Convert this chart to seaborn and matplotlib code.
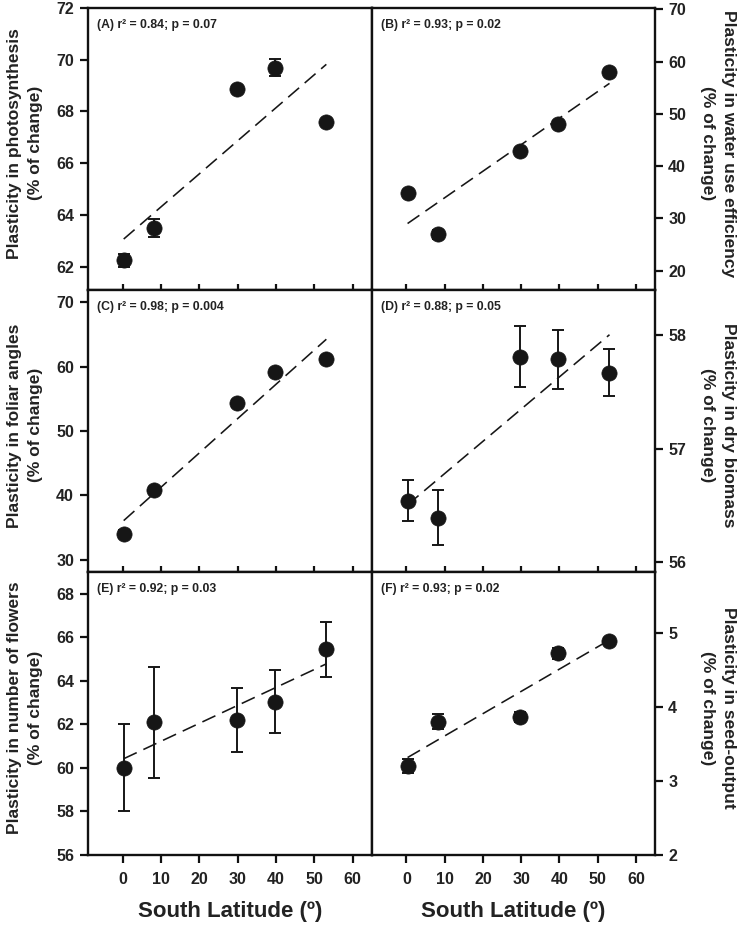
import numpy as np
import pandas as pd
import matplotlib
matplotlib.use("Agg")
import matplotlib.pyplot as plt
import seaborn as sns

# ---- data ----
latitude = [0.3, 8.2, 29.7, 39.7, 53.1]

photo = [62.25, 63.5, 68.88, 69.7, 67.58]
photo_err = [0.25, 0.34, 0.1, 0.31, 0.1]

wue = [34.9, 26.95, 42.9, 48.05, 58.05]
wue_err = [0.6, 0.8, 0.5, 0.5, 0.5]

foliar = [34.0, 40.8, 54.3, 59.2, 61.2]
foliar_err = [0.6, 0.5, 0.5, 0.5, 0.5]

biomass = [56.54, 56.39, 57.81, 57.79, 57.67]
biomass_err = [0.18, 0.245, 0.27, 0.26, 0.21]

flowers = [60.0, 62.09, 62.21, 63.05, 65.45]
flowers_err = [2.0, 2.55, 1.46, 1.43, 1.27]

seed = [3.20, 3.80, 3.86, 4.72, 4.89]
seed_err = [0.09, 0.10, 0.07, 0.07, 0.04]

panel_labels = ["(A) r² = 0.84; p = 0.07", "(B) r² = 0.93; p = 0.02",
                "(C) r² = 0.98; p = 0.004", "(D) r² = 0.88; p = 0.05",
                "(E) r² = 0.92; p = 0.03", "(F) r² = 0.93; p = 0.02"]
y_labels = ["Plasticity in photosynthesis\n(% of change)",
            "Plasticity in water use efficiency\n(% of change)",
            "Plasticity in foliar angles\n(% of change)",
            "Plasticity in dry biomass\n(% of change)",
            "Plasticity in number of flowers\n(% of change)",
            "Plasticity in seed-output\n(% of change)"]
x_ticks = [0, 10, 20, 30, 40, 50, 60]
x_label = "South Latitude (º)"

series = [photo, wue, foliar, biomass, flowers, seed]
errors = [photo_err, wue_err, foliar_err, biomass_err, flowers_err, seed_err]
y_ticks = [[62, 64, 66, 68, 70, 72], [20, 30, 40, 50, 60, 70],
           [30, 40, 50, 60, 70], [56, 57, 58],
           [56, 58, 60, 62, 64, 66, 68], [2, 3, 4, 5]]
y_lims = [(61.1, 72.0), (16.3, 70.25), (28.1, 71.9), (55.91, 58.4),
          (56.0, 69.0), (2.0, 5.82)]

# ---- style ----
sns.set_theme(style="ticks")
plt.rcParams["font.family"] = ["Liberation Sans", "DejaVu Sans"]
plt.rcParams["font.weight"] = "bold"

W, H = 743, 927
fig = plt.figure(figsize=(W / 100, H / 100), dpi=100)

col_left = [88, 372]
col_w = [284, 283]
row_top = [8, 290, 572]
row_h = [282, 282, 283]

ink = "#161616"

for i in range(6):
    r, c = divmod(i, 2)
    x0 = col_left[c]
    y0 = row_top[r]
    ax = fig.add_axes([x0 / W, 1 - (y0 + row_h[r]) / H, col_w[c] / W, row_h[r] / H])
    df = pd.DataFrame({"lat": latitude, "val": series[i], "err": errors[i]})

    sns.regplot(data=df, x="lat", y="val", ax=ax, scatter=False, ci=None,
                truncate=True,
                line_kws=dict(color=ink, lw=1.15, dashes=(9.0, 4.6), zorder=2))
    ax.errorbar(df["lat"], df["val"], yerr=df["err"], fmt="none", ecolor=ink,
                elinewidth=1.4, capsize=4.0, capthick=1.4, zorder=3)
    sns.scatterplot(data=df, x="lat", y="val", ax=ax, s=120, color=ink,
                    edgecolor=ink, linewidth=0.5, zorder=4, legend=False)

    ax.set_xlim(-9, 65)
    ax.set_ylim(*y_lims[i])
    ax.set_xticks(x_ticks)
    ax.set_yticks(y_ticks[i])
    for s in ax.spines.values():
        s.set_visible(True)
        s.set_linewidth(1.7)
        s.set_color("#111111")

    # x ticks
    if r < 2:
        ax.tick_params(axis="x", direction="in", length=4.5, width=1.6,
                       labelbottom=False, color="#111111")
        ax.set_xlabel("")
    else:
        ax.tick_params(axis="x", direction="out", length=5.5, width=1.6,
                       pad=6.5, labelsize=11.5, labelcolor="#222222",
                       color="#111111")
        ax.set_xlabel(x_label, fontsize=16, fontweight="bold", color="#222222")
        ax.xaxis.label.set(va="center")
        ax.xaxis.set_label_coords(0.5, -0.201)

    # y ticks
    if c == 0:
        ax.tick_params(axis="y", direction="out", length=5.5, width=1.6,
                       pad=4.5, labelsize=11.5, labelcolor="#222222",
                       left=True, right=False, color="#111111")
        ax.set_ylabel(y_labels[i], fontsize=12.5, fontweight="bold",
                      color="#222222", linespacing=1.45)
        ax.yaxis.label.set(rotation=90, ha="center", va="center",
                           rotation_mode="default")
        ax.yaxis.set_label_coords(-0.222, 0.52)
    else:
        ax.yaxis.tick_right()
        ax.yaxis.set_label_position("right")
        ax.tick_params(axis="y", direction="out", length=5.5, width=1.6,
                       pad=4.0, labelsize=11.5, labelcolor="#222222",
                       left=False, right=True, color="#111111")
        ax.set_ylabel(y_labels[i], fontsize=12.5, fontweight="bold",
                      color="#222222", linespacing=1.45)
        ax.yaxis.label.set(rotation=270, ha="center", va="center",
                           rotation_mode="default")
        ax.yaxis.set_label_coords(1.222, 0.52)

    for lab in ax.get_xticklabels() + ax.get_yticklabels():
        lab.set_fontweight("bold")

    ax.text(0.033, 0.94, panel_labels[i], transform=ax.transAxes,
            fontsize=8.8, fontweight="bold", color="#222222",
            ha="left", va="center")

fig.savefig("out.png", dpi=100)
